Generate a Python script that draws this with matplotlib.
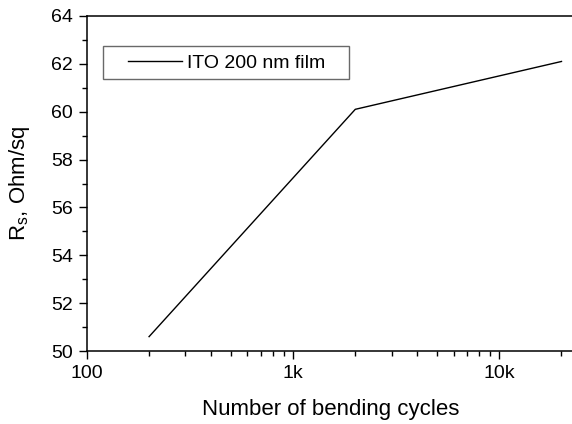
import matplotlib.pyplot as plt
from matplotlib.ticker import FixedLocator, FixedFormatter, LogLocator, MultipleLocator
from matplotlib.legend_handler import HandlerLine2D

plt.rcParams['font.family'] = ['Liberation Sans', 'DejaVu Sans']

cycles = [200, 2000, 20000]
rs = [50.6, 60.1, 62.1]
xtick_vals = [100, 1000, 10000]
xtick_labels = ['100', '1k', '10k']

fig = plt.figure(figsize=(5.72, 4.24), dpi=100)
ax = fig.add_axes([87 / 572, 1 - 351 / 424, (574 - 87) / 572, (351 - 16) / 424])

line, = ax.plot(cycles, rs, color='black', lw=1.0, label='ITO 200 nm film   ')

ax.set_xscale('log')
ax.set_xlim(100, 23000)
ax.set_ylim(50, 64)

ax.xaxis.set_major_locator(FixedLocator(xtick_vals))
ax.xaxis.set_major_formatter(FixedFormatter(xtick_labels))
ax.xaxis.set_minor_locator(LogLocator(base=10, subs=range(2, 10)))
ax.xaxis.set_minor_formatter(FixedFormatter([]))
ax.yaxis.set_major_locator(MultipleLocator(2))
ax.yaxis.set_minor_locator(MultipleLocator(1))

ax.tick_params(which='both', direction='out', top=False, right=False, width=1.0, labelsize=14)
ax.tick_params(which='major', length=6, pad=4)
ax.tick_params(which='minor', length=3.5)

for s in ['left', 'bottom', 'top']:
    ax.spines[s].set_linewidth(1.1)
ax.spines['right'].set_visible(False)

ax.set_xlabel('Number of bending cycles', fontsize=16, labelpad=12)
ax.set_ylabel('R$_\\mathregular{s}$, Ohm/sq', fontsize=16, labelpad=14)

leg = ax.legend(loc='upper left', bbox_to_anchor=(0.033, 0.91), borderaxespad=0,
                fontsize=14, fancybox=False, frameon=True, edgecolor='#444444',
                handlelength=3.66, handletextpad=0.25, borderpad=0.4,
                handler_map={line: HandlerLine2D(xpad=0.88)})
leg.get_frame().set_linewidth(1.0)

fig.savefig('out.png', dpi=100)
